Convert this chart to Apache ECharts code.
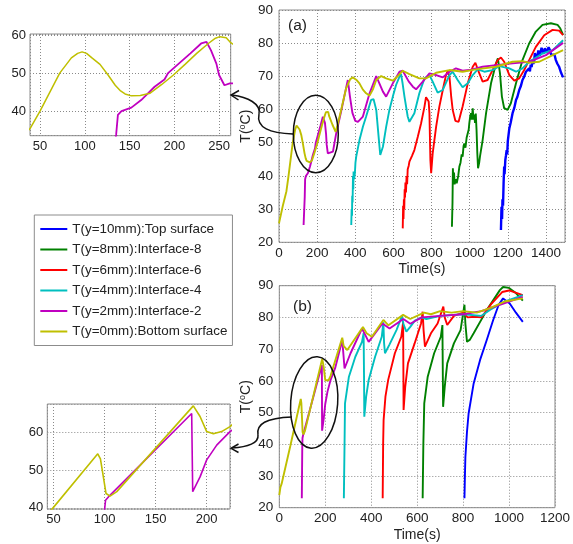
<!DOCTYPE html>
<html>
<head>
<meta charset="utf-8">
<script src="https://cdn.jsdelivr.net/npm/echarts@6/dist/echarts.min.js"></script>
<style>
html,body{margin:0;padding:0;background:#fff;}
#chart{width:573px;height:544px;}
</style>
</head>
<body>
<div id="chart"></div>
<script>
// ---------- data ----------
const seriesNames = ['T(y=10mm):Top surface','T(y=8mm):Interface-8','T(y=6mm):Interface-6','T(y=4mm):Interface-4','T(y=2mm):Interface-2','T(y=0mm):Bottom surface'];
const seriesColors = ['#0000ff','#008000','#ff0000','#00bfbf','#c000c0','#bfbf00'];
const xTicksA = [0,200,400,600,800,1000,1200,1400];
const xTicksB = [0,200,400,600,800,1000,1200];
const yTicks = [20,30,40,50,60,70,80,90];

// (a) series : [time(s), T(°C)]
const aBlue = [[1164,23.7],[1167,30.7],[1170,27],[1172,33],[1175,31],[1178,38],[1181,42.8],[1183,40.5],[1187,44.8],[1190,46],[1194,47.8],[1197,46.5],[1200,50.5],[1204,51],[1208,54.3],[1215,56],[1220,56.5],[1225,58.9],[1234,60.5],[1243,62.9],[1250,63.8],[1260,65.9],[1268,67],[1277,68.9],[1285,69.8],[1290,69.2],[1295,71.4],[1303,71],[1312,72.4],[1316,71.5],[1320,73.5],[1325,72.8],[1330,75],[1334,73.8],[1338,74.5],[1342,77],[1345,76.5],[1350,75.6],[1356,76.4],[1360,77.8],[1365,78],[1368,76.2],[1372,76.5],[1377,78.6],[1382,77.9],[1388,76.8],[1395,78.5],[1401,77.2],[1408,77.9],[1414,78.8],[1420,78],[1427,76.6],[1435,76.9],[1445,76.5],[1452,74.9],[1460,73.8],[1469,72.9],[1480,71],[1490,69.7]];
const aGreen = [[907,24.7],[910,32],[912,42.3],[915,38],[918,41],[921,37.5],[926,39],[932,37.8],[940,40],[946,42.8],[952,44],[958,46.5],[963,45.8],[968,49],[972,49.8],[978,48.5],[984,51.5],[990,51.8],[995,54],[998,55.8],[1003,58],[1007,58.9],[1011,57],[1016,60.4],[1020,57],[1024,58.5],[1028,56],[1032,58.8],[1036,54],[1040,47],[1044,42.3],[1050,44],[1054,45.8],[1068,50.8],[1086,58.9],[1112,67.9],[1138,73.9],[1148,75.4],[1159,70.9],[1169,63.9],[1181,60.4],[1199,59.9],[1216,61.9],[1243,67.9],[1277,74.9],[1312,79.9],[1347,83.5],[1382,85.5],[1426,86],[1461,85.5],[1475,84.5],[1490,82.5]];
const aRed = [[649,24.2],[651,31],[653,27],[655,33],[657,30],[659,36],[661,33.5],[663,38],[666,35],[669,40],[672,37.5],[675,42],[680,43],[684,44.3],[697,46],[710,47.8],[728,51.8],[745,55.8],[763,60.9],[771,63.7],[785,62.4],[789,58.9],[794,44.8],[798,40.8],[806,46.8],[824,54.8],[841,60.9],[859,65.9],[876,70.4],[885,71.7],[894,69.9],[903,64],[911,59.9],[925,56.6],[942,56.3],[963,60.9],[990,67.9],[1016,72.9],[1030,74.1],[1047,71.4],[1068,68.4],[1094,68.9],[1120,71.9],[1147,74.9],[1164,75.7],[1181,74.4],[1208,70.4],[1234,68.7],[1260,69.4],[1286,71.9],[1312,74.9],[1347,78.9],[1391,82.4],[1435,84],[1469,83.8],[1490,82.4]];
const aCyan = [[379,25.2],[381,30],[383,28],[384,34],[386,32],[388,40],[390,36],[391,41.3],[394,39],[398,40.8],[401,44],[405,45.8],[422,50.8],[440,54.8],[457,57.9],[483,62.9],[496,63.1],[510,59.9],[524,50.8],[531,46.3],[545,48.8],[562,54.8],[579,59.9],[597,63.9],[614,67.4],[632,69.9],[640,70.7],[648,68],[658,63.9],[675,57.9],[684,56.3],[710,58.9],[736,64.9],[763,69.4],[789,70.4],[806,68.4],[832,65.1],[859,65.9],[894,70.4],[911,71.4],[937,68.9],[963,66.7],[990,67.9],[1016,70.4],[1042,72.1],[1077,71.4],[1120,71.9],[1155,73.1],[1208,72.4],[1243,71.4],[1277,72.4],[1312,74.4],[1382,76.9],[1435,77.9],[1490,80.9]];
const aMagenta = [[129,25.2],[135,33.7],[137,39],[141,40],[152,40.9],[163,42.9],[170,44.5],[178,46.4],[189,48.3],[193,50],[205,52.5],[218,55.2],[230,57.8],[236,58.2],[241,56],[247,52.5],[250,49.5],[256,46.8],[262,47.3],[283,47.3],[300,52.8],[326,59.5],[350,66],[361,68.9],[372,64],[385,59],[400,56.6],[414,56.3],[440,57.9],[475,64.9],[510,70.1],[518,70.4],[545,65.4],[562,63.9],[597,67.9],[632,71.4],[649,71.7],[680,68.5],[702,66.9],[719,66.1],[754,68.4],[789,70.9],[824,70.4],[859,69.7],[894,71.4],[928,72.4],[963,71.7],[998,71.9],[1068,72.9],[1138,73.4],[1225,73.9],[1312,74.4],[1400,76.4],[1490,80.1]];
const aYellow = [[0,25.7],[20,31],[39,35.4],[50,40],[72,50],[85,54],[92,55.2],[97,55.6],[102,55.2],[108,54],[117,52.3],[126,49.5],[134,46.8],[140,45.3],[145,44.5],[152,44],[162,44.1],[173,44.7],[186,47],[199,49.5],[212,52.3],[225,55.2],[238,57.8],[246,59.2],[251,59.6],[258,59.3],[263,58],[280,55.5],[297,53.3],[310,56],[326,59.9],[352,66.4],[373,69.1],[387,69.7],[405,69],[422,67.9],[440,66],[457,64.9],[475,64.2],[492,66],[510,68.9],[536,70.1],[562,69.4],[597,68.7],[623,70.1],[649,71.7],[684,70.7],[736,69.4],[771,69.4],[824,71.1],[894,71.9],[963,71.4],[1033,72.1],[1138,72.9],[1225,74.4],[1277,74.6],[1312,74.1],[1365,74.4],[1417,75.9],[1490,77.9]];

// (b) series
const bBlue = [[806,23],[808,30],[810,36],[817,44],[824,49.7],[846,59.2],[874,66.6],[903,72.9],[931,79.2],[955,84],[974,86],[1003,84.4],[1030,81.5],[1060,78.6]];
const bGreen = [[624,23],[627,40],[631,52.9],[646,61.3],[674,68.7],[703,73.9],[710,77.6],[712,60],[713,51.8],[720,58],[731,65.5],[760,71.8],[789,76],[806,84],[810,78],[817,72.3],[830,73],[846,75],[903,82.3],[960,88.6],[974,89.6],[1000,89.3],[1031,87.6],[1060,85.3]];
const bRed = [[450,23],[452,40],[454,47.6],[462,55],[474,60.3],[503,68.7],[531,73.9],[539,78.5],[540,65],[541,50.8],[548,58],[560,65.5],[589,71.8],[617,78.1],[624,81.8],[628,76],[634,70.8],[660,75],[689,78.1],[714,83.4],[720,80],[731,77.6],[760,80.5],[800,81.5],[820,80],[850,80.2],[880,80],[920,84],[970,88],[1000,88.5],[1060,87]];
const bCyan = [[281,23],[284,40],[286,52.9],[303,61.3],[331,67.6],[360,72.3],[367,75],[369,60],[370,48.7],[378,55],[389,60.3],[417,67.6],[446,73.9],[453,78.5],[456,72],[460,68.7],[480,71.5],[510,76],[534,80.5],[540,78],[553,75.5],[570,77],[590,79],[620,80],[640,79.5],[700,80.5],[800,81],[880,80.5],[920,82.5],[980,85],[1060,87]];
const bMagenta = [[98,23],[100,39.4],[101,42],[103.8,42.9],[185.3,65],[186.3,44.3],[193.5,48.2],[200,52.7],[209.8,56.6],[222.8,60.2],[243,64],[274,72.9],[284,63.9],[310,68.7],[360,76.5],[374,74.5],[389,72.3],[449,78.1],[480,76.5],[540,79.5],[570,78],[620,80],[700,80.5],[800,81],[880,82],[960,84],[1060,86.5]];
const bYellow = [[0,24],[5,26.5],[10,27.5],[48.4,39.6],[93.4,54.3],[96,53],[101.5,43.8],[105.4,43.1],[112,44.3],[186.9,67],[193.5,64.2],[200,60.2],[206.5,59.6],[214.6,60.2],[222.8,61.5],[274,73.6],[280,71],[296,69.7],[364,77],[380,75],[403,73.9],[453,79.2],[475,77.5],[539,80.8],[570,79.5],[630,81.5],[660,81],[700,82],[750,81.5],[800,82],[860,81.5],[920,83],[980,85],[1060,86]];

// ---------- chart ----------
const FONT = '"Liberation Sans", Arial, sans-serif';
const TXT = '#222';
const GRIDLINE = {show:true, lineStyle:{color:'#8a8a8a', type:[1,2], width:1}};
const plain = v => String(v);

function axis(gridIndex, extra){
  return Object.assign({
    type:'value', gridIndex:gridIndex,
    axisLine:{show:false}, axisTick:{show:false},
    splitLine:GRIDLINE
  }, extra);
}
function lbl(fs, margin, more){
  return Object.assign({color:TXT, fontSize:fs, fontFamily:FONT, margin:margin, formatter:plain}, more||{});
}
const yName = '{t|T(}{s|o}{t|C)}';
const yNameStyle = {rich:{t:{fontSize:14, fontFamily:FONT, color:TXT, lineHeight:16}, s:{fontSize:9, fontFamily:FONT, color:TXT, verticalAlign:'top', lineHeight:16, padding:[0,0,6,0]}}};

const grids = [
  {left:279, top:10, width:286, height:232.3},
  {left:279.3, top:285.7, width:280, height:222},
  {left:30, top:34, width:200.7, height:101.7},
  {left:47.3, top:404, width:182.7, height:105}
].map(g=>Object.assign({show:true, borderColor:'#8c8c8c', borderWidth:1, backgroundColor:'#fff', containLabel:false}, g));

const xAxes = [
  axis(0,{min:0,max:1500,interval:200, name:'Time(s)', nameLocation:'middle', nameGap:20, nameTextStyle:{fontSize:14,fontFamily:FONT,color:TXT},
    axisLabel:lbl(13.5,4,{showMaxLabel:false})}),
  axis(1,{min:0,max:1200,interval:200, name:'Time(s)', nameLocation:'middle', nameGap:20, nameTextStyle:{fontSize:14,fontFamily:FONT,color:TXT},
    axisLabel:lbl(13.5,4)}),
  axis(2,{min:38.8,max:263,splitNumber:5, axisLabel:lbl(13,4,{showMinLabel:false,showMaxLabel:false})}),
  axis(3,{min:44,max:222.8,splitNumber:4, axisLabel:lbl(13,4,{showMinLabel:false,showMaxLabel:false})})
];
const yAxes = [
  axis(0,{min:20,max:90,interval:10, name:yName, nameLocation:'middle', nameGap:25, nameRotate:90, nameTextStyle:yNameStyle, axisLabel:lbl(13.5,6)}),
  axis(1,{min:20,max:90,interval:10, name:yName, nameLocation:'middle', nameGap:25, nameRotate:90, nameTextStyle:yNameStyle, axisLabel:lbl(13.5,6)}),
  axis(2,{min:33.5,max:60.3,splitNumber:3, axisLabel:lbl(13,4,{showMinLabel:false,showMaxLabel:false})}),
  axis(3,{min:39.7,max:67.5,splitNumber:3, axisLabel:lbl(13,4,{showMinLabel:false,showMaxLabel:false})})
];

function line(idx, data, ai, width){
  return {type:'line', name:seriesNames[idx], data:data, xAxisIndex:ai, yAxisIndex:ai,
    symbol:'none', showSymbol:false, smooth:false, clip:true, animation:false,
    lineStyle:{color:seriesColors[idx], width:width}, itemStyle:{color:seriesColors[idx]}, z:2+idx};
}
const aSets = [aBlue,aGreen,aRed,aCyan,aMagenta,aYellow];
const bSets = [bBlue,bGreen,bRed,bCyan,bMagenta,bYellow];
const series = [];
aSets.forEach((d,i)=>series.push(line(i,d,0,i===0?2.4:1.9)));
bSets.forEach((d,i)=>series.push(line(i,d,1,1.9)));
series.push(line(4,aMagenta,2,1.8));
series.push(line(5,aYellow,2,1.5));
series.push(line(4,bMagenta,3,1.6));
series.push(line(5,bYellow,3,1.6));

const K = {fill:null, stroke:'#111', lineWidth:1.5};
function bez(p){ return {type:'bezierCurve', z:100, silent:true, shape:{x1:p[0],y1:p[1],cpx1:p[2],cpy1:p[3],cpx2:p[4],cpy2:p[5],x2:p[6],y2:p[7]}, style:K}; }

const option = {
  animation:false,
  backgroundColor:'#fff',
  textStyle:{fontFamily:FONT},
  grid:grids, xAxis:xAxes, yAxis:yAxes, series:series,
  legend:{
    data:seriesNames.map(n=>({name:n, icon:'rect'})), orient:'vertical', left:34.3, top:215,
    padding:[6,5,6,6], itemGap:4.5, itemWidth:27, itemHeight:2,
    borderColor:'#8c8c8c', borderWidth:1, backgroundColor:'#fff',
    selectedMode:false,
    textStyle:{fontSize:13.4, fontFamily:FONT, color:TXT, lineHeight:16}
  },
  graphic:[
    {type:'text', x:288, y:18, z:100, style:{text:'(a)', fontSize:15.5, fontFamily:FONT, fill:TXT}},
    {type:'text', x:293, y:298.5, z:100, style:{text:'(b)', fontSize:15.5, fontFamily:FONT, fill:TXT}},
    {type:'ellipse', z:100, shape:{cx:315.8, cy:134, rx:22.5, ry:38.8}, style:K},
    {type:'ellipse', z:100, x:314.2, y:402.5, rotation:-0.07, shape:{cx:0, cy:0, rx:23.5, ry:45.8}, style:K},
    bez([293,134, 270,133, 256,128, 259,114]),
    bez([259,114, 261,104, 248,97, 232,95]),
    {type:'polyline', z:100, shape:{points:[[239,90.5],[231,95],[238.5,100]]}, style:K},
    bez([292,417, 266,418, 256,424, 258,435]),
    bez([258,435, 259,443, 248,447, 232,448]),
    {type:'polyline', z:100, shape:{points:[[238.5,444],[231,448.3],[238.5,452.5]]}, style:K}
  ]
};
const chart = echarts.init(document.getElementById('chart'), null, {renderer:'canvas'});
chart.setOption(option);
</script>
</body>
</html>
